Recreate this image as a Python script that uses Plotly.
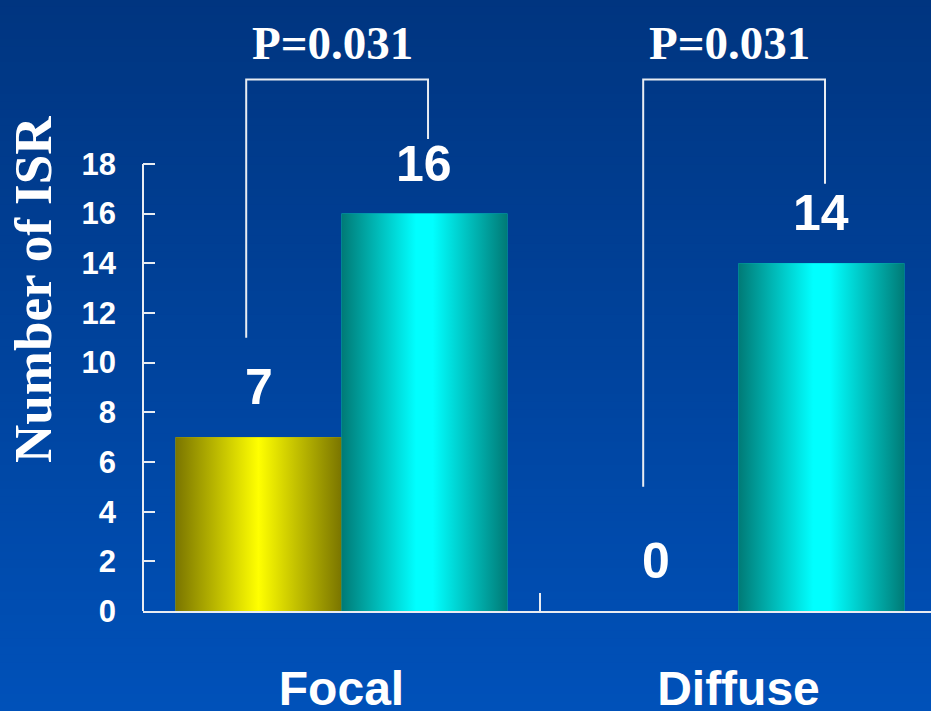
import plotly.graph_objects as go

# ---- data ---------------------------------------------------------------
categories = ["Focal", "Diffuse"]
yellow_values = [7, 0]
cyan_values = [16, 14]
y_ticks = [0, 2, 4, 6, 8, 10, 12, 14, 16, 18]
p_labels = ["P=0.031", "P=0.031"]
# bracket leg lower ends (left leg, right leg) per category, and common top
bracket_low = [[11.0, 19.0], [5.0, 17.2]]
bracket_top = 21.4

# ---- geometry / style ---------------------------------------------------
W, H = 931, 711
M_L, M_B = 143, 100
X_RANGE = [-0.5, 1.485]
Y_MAX = 24.6
BAR_W = 0.418
LINE_CLR = "rgb(232,236,242)"
SANS = "Liberation Sans, Arial, sans-serif"
SERIF = "Liberation Serif, Times New Roman, serif"
YELLOW_SCALE = [[0, "#7a7500"], [0.5, "#ffff00"], [1, "#7a7500"]]
CYAN_SCALE = [[0, "#007a76"], [0.45, "#00ffff"], [0.55, "#00ffff"], [1, "#007a76"]]

x_pos = list(range(len(categories)))

fig = go.Figure()

# base bars
fig.add_trace(go.Bar(x=x_pos, y=yellow_values, offset=-BAR_W, width=BAR_W,
                     marker=dict(color="#d4d000", line=dict(width=0)),
                     hoverinfo="skip", showlegend=False))
fig.add_trace(go.Bar(x=x_pos, y=cyan_values, offset=0, width=BAR_W,
                     marker=dict(color="#00d8d8", line=dict(width=0)),
                     hoverinfo="skip", showlegend=False))


def shaded_bar(x0, x1, v, scale):
    """Cylinder-style horizontal shading laid over a bar."""
    if v <= 0:
        return
    fig.add_trace(go.Scatter(
        x=[x0, x0, x1, x1, x0], y=[0, v, v, 0, 0],
        mode="lines", fill="toself", line=dict(width=0),
        fillgradient=dict(type="horizontal", colorscale=scale),
        hoverinfo="skip", showlegend=False))


for i, c in enumerate(x_pos):
    shaded_bar(c - BAR_W, c, yellow_values[i], YELLOW_SCALE)
    shaded_bar(c, c + BAR_W, cyan_values[i], CYAN_SCALE)

shapes = []

# vertical background gradient (dark navy at top -> brighter blue below)
top_rgb = (0, 53, 128)
bot_rgb = (0, 81, 185)
n_strips = 90
px0 = -M_L / (W - M_L)
py0 = -M_B / (H - M_B)
for k in range(n_strips):
    t = k / (n_strips - 1)
    col = tuple(round(a + (b - a) * t) for a, b in zip(top_rgb, bot_rgb))
    ya = 1 - (1 - py0) * k / n_strips
    yb = 1 - (1 - py0) * (k + 1) / n_strips
    shapes.append(dict(type="rect", xref="paper", yref="paper", layer="below",
                       x0=px0, x1=1, y0=yb - 0.002, y1=ya + 0.002,
                       fillcolor="rgb(%d,%d,%d)" % col, line=dict(width=0)))

# y axis line (stops at the top tick)
shapes.append(dict(type="line", xref="paper", yref="y", x0=0, x1=0,
                   y0=y_ticks[0], y1=y_ticks[-1],
                   line=dict(color=LINE_CLR, width=2)))

# significance brackets
annotations = []
for i, c in enumerate(x_pos):
    xl = c - BAR_W / 2 - 0.031
    xr = c + BAR_W / 2 + 0.009
    lo_l, lo_r = bracket_low[i]
    shapes.append(dict(type="path", xref="x", yref="y",
                       path=f"M {xl},{lo_l} L {xl},{bracket_top} L {xr},{bracket_top} L {xr},{lo_r}",
                       line=dict(color=LINE_CLR, width=2)))
    annotations.append(dict(x=(xl + xr) / 2, y=bracket_top, xref="x", yref="y",
                            text=f"<b>{p_labels[i]}</b>", showarrow=False,
                            yanchor="middle", yshift=36, xshift=-5,
                            font=dict(family=SERIF, size=47, color="white")))

# value labels above bars
for i, c in enumerate(x_pos):
    for xc, v in ((c - BAR_W / 2, yellow_values[i]), (c + BAR_W / 2, cyan_values[i])):
        annotations.append(dict(x=xc, y=v, xref="x", yref="y", text=f"<b>{v}</b>",
                                showarrow=False, yanchor="middle", yshift=50,
                                font=dict(family=SANS, size=50, color="white")))

# y axis title
annotations.append(dict(x=-110 / (W - M_L), y=(611 - 290) / 611, xref="paper", yref="paper",
                        text="<b>Number of ISR</b>", textangle=-90, showarrow=False,
                        xanchor="center", yanchor="middle",
                        font=dict(family=SERIF, size=53, color="white")))

fig.update_layout(
    width=W, height=H,
    margin=dict(l=M_L, r=0, t=0, b=M_B, pad=0, autoexpand=False),
    paper_bgcolor="rgb(0,67,156)",
    plot_bgcolor="rgba(0,0,0,0)",
    barmode="overlay",
    showlegend=False,
    shapes=shapes,
    annotations=annotations,
    xaxis=dict(range=X_RANGE, tickmode="array", tickvals=x_pos,
               ticktext=[f"<b>{c}</b>" for c in categories],
               ticks="", showgrid=False, zeroline=False, automargin=False,
               showline=True, linecolor=LINE_CLR, linewidth=2,
               ticklabelstandoff=34,
               tickfont=dict(family=SANS, size=48, color="white"),
               minor=dict(tickmode="array", tickvals=[0.5], ticks="inside",
                          ticklen=18, tickwidth=1.5, tickcolor=LINE_CLR, showgrid=False),
               fixedrange=True),
    yaxis=dict(range=[0, Y_MAX], tickmode="array", tickvals=y_ticks,
               ticktext=[f"<b>{t}</b>" for t in y_ticks],
               ticks="inside", ticklen=12, tickwidth=2, tickcolor=LINE_CLR,
               showgrid=False, zeroline=False, showline=False, automargin=False,
               ticklabelstandoff=26,
               tickfont=dict(family=SANS, size=31, color="white"),
               fixedrange=True),
)

fig.write_html("out.html", config={"displayModeBar": False})
